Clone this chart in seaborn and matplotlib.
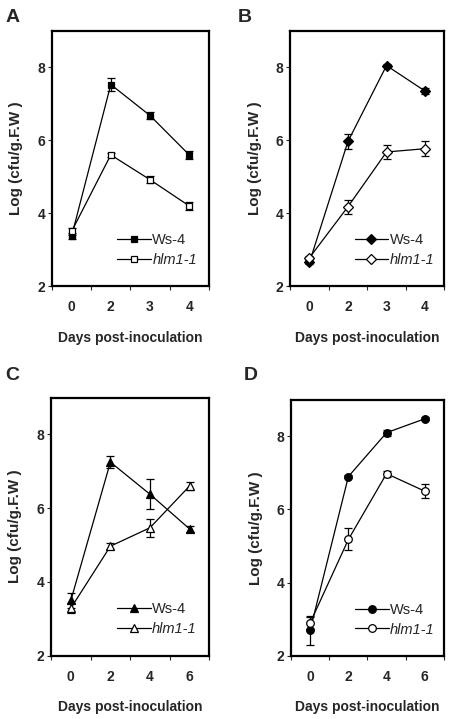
import matplotlib
matplotlib.use("Agg")
import matplotlib.pyplot as plt
import seaborn as sns
import pandas as pd
import numpy as np

# ---- data ----
days_AB = ["0", "2", "3", "4"]
days_CD = ["0", "2", "4", "6"]

A_ws = [3.37, 7.53, 6.68, 5.60]
A_ws_err = [0.08, 0.18, 0.10, 0.10]
A_hlm = [3.50, 5.60, 4.92, 4.20]
A_hlm_err = [0.10, 0.05, 0.10, 0.10]

B_ws = [2.65, 5.97, 8.05, 7.35]
B_ws_err = [0.05, 0.20, 0.03, 0.08]
B_hlm = [2.78, 4.18, 5.68, 5.77]
B_hlm_err = [0.05, 0.19, 0.20, 0.20]

C_ws = [3.50, 7.25, 6.38, 5.44]
C_ws_err = [0.20, 0.16, 0.40, 0.08]
C_hlm = [3.29, 4.97, 5.47, 6.60]
C_hlm_err = [0.13, 0.08, 0.25, 0.10]

D_ws = [2.70, 6.90, 8.10, 8.48]
D_ws_err = [0.40, 0.04, 0.08, 0.04]
D_hlm = [2.90, 5.18, 6.98, 6.50]
D_hlm_err = [0.17, 0.30, 0.08, 0.20]

series_names = ["Ws-4", "hlm1-1"]
panel_letters = ["A", "B", "C", "D"]
y_ticks = [2, 4, 6, 8]
y_label = "Log (cfu/g.F.W )"
x_label = "Days post-inoculation"

sns.set_theme(style="ticks")
plt.rcParams['font.family'] = ['Liberation Sans', 'DejaVu Sans']

fig = plt.figure(figsize=(4.52, 7.19), dpi=100)

panels = [
    (days_AB, A_ws, A_ws_err, A_hlm, A_hlm_err, "s", [0.115, 0.602, 0.347, 0.355]),
    (days_AB, B_ws, B_ws_err, B_hlm, B_hlm_err, "D", [0.642, 0.602, 0.341, 0.355]),
    (days_CD, C_ws, C_ws_err, C_hlm, C_hlm_err, "^", [0.113, 0.088, 0.350, 0.359]),
    (days_CD, D_ws, D_ws_err, D_hlm, D_hlm_err, "o", [0.644, 0.088, 0.338, 0.356]),
]
letter_pos = [(0.012, 0.975), (0.525, 0.975), (0.012, 0.478), (0.540, 0.478)]
msizes = {"s": 5, "D": 4.6, "^": 6, "o": 5.5}

for i, (days, ws, wse, hl, hle, mk, rect) in enumerate(panels):
    ax = fig.add_axes(rect)
    pos = np.arange(len(days))
    for vals, errs, name, face in [(ws, wse, series_names[0], "black"),
                                    (hl, hle, series_names[1], "white")]:
        df = pd.DataFrame({"pos": pos, "val": vals})
        ax.errorbar(df["pos"], df["val"], yerr=errs, fmt="none", ecolor="black",
                    elinewidth=0.9, capsize=3, capthick=0.9, zorder=2)
        sns.lineplot(data=df, x="pos", y="val", ax=ax, color="black", lw=0.9,
                     marker=mk, markersize=msizes[mk], markerfacecolor=face,
                     markeredgecolor="black", markeredgewidth=0.9, label=name,
                     zorder=3)
    ax.set_xlim(-0.5, len(days) - 0.5)
    ax.set_ylim(2, 9)
    ax.set_yticks(y_ticks)
    ax.set_yticklabels([str(t) for t in y_ticks], fontsize=10, fontweight="bold")
    ax.set_xticks(pos)
    ax.set_xticklabels(days, fontsize=10, fontweight="bold")
    ax.set_xticks(np.arange(len(days) + 1) - 0.5, minor=True)
    ax.tick_params(axis="x", which="major", length=0, pad=10)
    ax.tick_params(axis="x", which="minor", length=3, width=0.8, direction="out")
    ax.tick_params(axis="y", which="major", length=3, width=0.8, direction="out", pad=2)
    for sp in ax.spines.values():
        sp.set_visible(True)
        sp.set_linewidth(1.6)
        sp.set_color("black")
    ax.set_xlabel(x_label, fontsize=10, fontweight="bold", labelpad=12)
    ax.set_ylabel(y_label, fontsize=11, fontweight="bold", labelpad=10)
    leg = ax.legend(loc="upper left", bbox_to_anchor=(0.38, 0.23), frameon=False,
                    fontsize=10.5, handlelength=2.3, handletextpad=0.1,
                    labelspacing=0.4, borderaxespad=0)
    leg.get_texts()[1].set_fontstyle("italic")
    fig.text(letter_pos[i][0], letter_pos[i][1], panel_letters[i], fontsize=14,
             fontweight="bold", ha="left", va="center")

fig.savefig("out.png", dpi=100)
